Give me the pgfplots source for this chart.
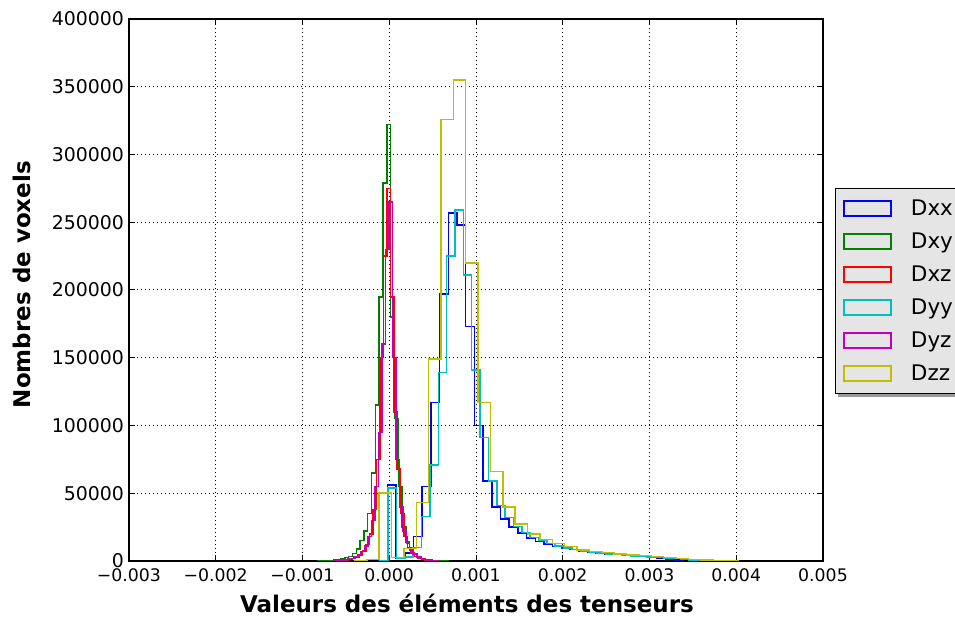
\documentclass[border=0pt]{standalone}
\usepackage{pgfplots}
\pgfplotsset{compat=1.18}
\usepackage{fontspec}
\setmainfont{DejaVu Sans}
\usetikzlibrary{shadows}
\definecolor{mplb}{rgb}{0,0,1}
\definecolor{mplg}{rgb}{0,0.5,0}
\definecolor{mplr}{rgb}{1,0,0}
\definecolor{mplc}{rgb}{0,0.75,0.75}
\definecolor{mplm}{rgb}{0.75,0,0.75}
\definecolor{mply}{rgb}{0.75,0.75,0}
\definecolor{legbg}{rgb}{0.898,0.898,0.898}
\makeatletter
\tikzset{nopre/.code={\def\tikz@preactions{}}}
\makeatother
\begin{document}
\begin{tikzpicture}
\path[use as bounding box] (0,0) rectangle (955pt,617pt);
\begin{axis}[
  at={(129pt,56pt)}, anchor=south west,
  scale only axis, width=694pt, height=542pt,
  xmin=-3, xmax=5, ymin=0, ymax=400,
  xtick={-3,-2,-1,0,1,2,3,4,5},
  xticklabels={−0.003,−0.002,−0.001,0.000,0.001,0.002,0.003,0.004,0.005},
  ytick={0,50,100,150,200,250,300,350,400},
  yticklabels={0,50000,100000,150000,200000,250000,300000,350000,400000},
  xticklabel style={font=\fontsize{17.3}{20}\selectfont, black, yshift=-4.5pt},
  yticklabel style={font=\fontsize{18.9}{20}\selectfont, black, xshift=-1.5pt},
  label style={font=\bfseries\fontsize{23}{27}\selectfont},
  xlabel={Valeurs des éléments des tenseurs},
  ylabel={Nombres de voxels},
  xlabel style={at={(axis description cs:0.487,-0.078)}, anchor=center},
  ylabel style={at={(axis description cs:-0.154,0.51)}, anchor=center, rotate=0},
  grid=major,
  major grid style={black, line width=1pt, dash pattern=on 1pt off 3pt},
  axis line style={black, line width=1.3pt},
  tick style={black, line width=1pt},
  major tick length=6pt,
  tick align=inside,
  legend style={at={(1.017,0.688)}, anchor=north west, fill=legbg, draw=black, line width=1pt,
    drop shadow={shadow xshift=3pt, shadow yshift=-3pt, fill=gray!80, opacity=1},
    inner xsep=8pt, inner ysep=3.5pt, row sep=0pt,
    font=\fontsize{21.5}{24}\selectfont,
    nodes={inner sep=0pt}, cells={anchor=west}},
  legend image code/.code={\draw[nopre, #1, line width=1.3pt, fill=none] (0pt,-7.5pt) rectangle (47pt,7.5pt); \path[nopre, draw=none, fill=none] (0pt,-16.5pt) -- (67pt,16.5pt);},
  every axis plot/.append style={line width=1.5pt, const plot mark left, mark=none},
]
% Dxx
\addplot[mplb] coordinates {(-0.1217,0) (-0.1217,0.3) (-0.0214,56) (0.0789,2) (0.1792,6) (0.2795,18) (0.3798,55) (0.4801,117) (0.5804,197) (0.6807,257) (0.7810,248) (0.8813,173) (0.9816,100) (1.0819,59) (1.1822,40) (1.2825,31) (1.3828,25) (1.4831,20.5) (1.5834,17) (1.6837,14.5) (1.7840,12.5) (1.8843,10.8) (1.9846,9.5) (2.0849,8.4) (2.1852,7.4) (2.2855,6.6) (2.3858,5.9) (2.4861,5.3) (2.5864,4.7) (2.6867,4.2) (2.7870,3.7) (2.8873,3.2) (2.9876,2.7) (3.0879,2.2) (3.1882,1.5) (3.2885,0.6) (3.3888,0)};
\addlegendentry{Dxx}
% Dxy
\addplot[mplg] coordinates {(-0.820,0) (-0.820,0.1) (-0.776,0.15) (-0.732,0.25) (-0.688,0.4) (-0.644,0.6) (-0.600,1.0) (-0.556,1.6) (-0.512,2.4) (-0.468,3.5) (-0.424,5.5) (-0.380,9) (-0.336,15) (-0.292,22) (-0.248,35) (-0.204,65) (-0.160,115) (-0.116,195) (-0.072,279) (-0.028,322) (0.016,180) (0.060,105) (0.104,55) (0.148,25) (0.192,14) (0.236,8) (0.280,5) (0.324,3) (0.368,2) (0.412,1.2) (0.456,0.8) (0.500,0.5) (0.544,0.3) (0.588,0.2) (0.632,0.1) (0.676,0)};
\addlegendentry{Dxy}
% Dxz
\addplot[mplr] coordinates {(-0.628,0) (-0.628,0.1) (-0.588,0.2) (-0.548,0.35) (-0.508,0.6) (-0.468,1.0) (-0.428,1.7) (-0.388,2.8) (-0.348,4.5) (-0.308,7.5) (-0.268,12) (-0.228,20) (-0.188,38) (-0.148,75) (-0.108,150) (-0.068,225) (-0.028,275) (0.012,195) (0.052,110) (0.092,68) (0.132,35) (0.172,18) (0.212,10) (0.252,6) (0.292,3.5) (0.332,2.2) (0.372,1.3) (0.412,0.8) (0.452,0.5) (0.492,0.3) (0.532,0.15) (0.572,0)};
\addlegendentry{Dxz}
% Dyy
\addplot[mplc] coordinates {(-0.1088,0) (-0.1088,0.3) (-0.0125,54) (0.0838,2) (0.1801,3) (0.2764,10) (0.3727,33) (0.4690,71) (0.5653,139) (0.6616,225) (0.7579,259) (0.8542,211) (0.9505,141) (1.0468,91) (1.1431,59) (1.2394,41) (1.3357,32) (1.4320,25.5) (1.5283,21) (1.6246,17.5) (1.7209,15) (1.8172,12.8) (1.9135,11) (2.0098,9.6) (2.1061,8.4) (2.2024,7.4) (2.2987,6.6) (2.3950,5.9) (2.4913,5.3) (2.5876,4.8) (2.6839,4.3) (2.7802,3.8) (2.8765,3.4) (2.9728,3.0) (3.0691,2.6) (3.1654,2.2) (3.2617,1.7) (3.3580,1.2) (3.4543,0.8) (3.5506,0.5) (3.6469,0.3) (3.7432,0)};
\addlegendentry{Dyy}
% Dyz
\addplot[mplm] coordinates {(-0.644,0) (-0.644,0.15) (-0.604,0.3) (-0.564,0.5) (-0.524,0.8) (-0.484,1.3) (-0.444,2) (-0.404,3) (-0.364,4.5) (-0.324,7) (-0.284,11) (-0.244,18) (-0.204,30) (-0.164,55) (-0.124,95) (-0.084,160) (-0.044,230) (-0.004,265) (0.036,150) (0.076,75) (0.116,40) (0.156,22) (0.196,13) (0.236,8) (0.276,5) (0.316,3) (0.356,2) (0.396,1.2) (0.436,0.7) (0.476,0.4) (0.516,0.2) (0.556,0)};
\addlegendentry{Dyz}
% Dzz
\addplot[mply] coordinates {(-0.4017,0) (-0.4017,0.3) (-0.2591,1) (-0.1165,50) (0.0261,2.7) (0.1687,9.4) (0.3113,43) (0.4539,149) (0.5965,326) (0.7391,355) (0.8817,220) (1.0243,117) (1.1669,66) (1.3095,40) (1.4521,27.3) (1.5947,19.9) (1.7373,16) (1.8799,13) (2.0225,10.6) (2.1651,8.1) (2.3077,7.1) (2.4503,6.2) (2.5929,5.3) (2.7355,4.6) (2.8781,4.0) (3.0207,3.3) (3.1633,2.6) (3.3059,1.8) (3.4485,1.2) (3.5911,0.7) (3.7337,0.4) (3.8763,0.2) (4.0189,0)};
\addlegendentry{Dzz}
\end{axis}
\end{tikzpicture}
\end{document}
